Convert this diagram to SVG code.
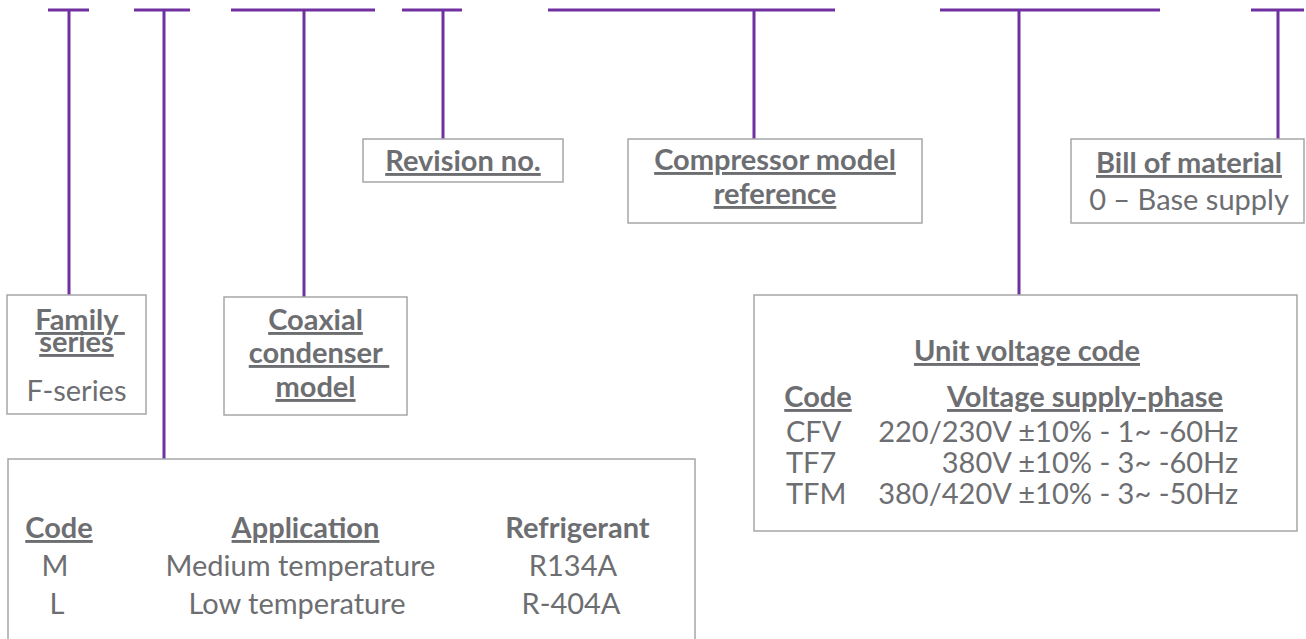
<svg xmlns="http://www.w3.org/2000/svg" width="1306" height="639" viewBox="0 0 1306 639">
  <style>
    .wire { stroke: #7030a0; stroke-width: 3; fill: none; }
    .box { fill: #ffffff; stroke: #a6a6a6; stroke-width: 1.5; }
    text { font-family: Lato, "Open Sans", "Liberation Sans", sans-serif; font-size: 29px; fill: #6d6e71; white-space: pre; }
    .b { font-weight: bold; }
    .u { text-decoration: underline; }
    .c { text-anchor: middle; }
    .e { text-anchor: end; }
  </style>
  <rect width="1306" height="639" fill="#ffffff"/>
  <g id="connectors">
    <path class="wire" d="M48 10H89M69 10V295"/>
    <path class="wire" d="M134 10H190M164 10V459"/>
    <path class="wire" d="M231 10H375M304 10V297"/>
    <path class="wire" d="M402 10H462M443 10V139"/>
    <path class="wire" d="M548 10H835M754 10V139"/>
    <path class="wire" d="M940 10H1160M1019 10V295"/>
    <path class="wire" d="M1251 10H1304M1278 10V139"/>
  </g>
  <g id="family">
    <rect class="box" x="7" y="295" width="139" height="119"/>
    <text class="b u c" x="80" y="330" xml:space="preserve">Family </text>
    <text class="b u c" x="76.5" y="352">series</text>
    <text class="c" x="76.5" y="401">F-series</text>
  </g>
  <g id="coaxial">
    <rect class="box" x="224" y="297" width="183" height="118"/>
    <text class="b u c" x="315.5" y="330">Coaxial</text>
    <text class="b u c" x="319" y="363" xml:space="preserve">condenser </text>
    <text class="b u c" x="315.5" y="397">model</text>
  </g>
  <g id="revision">
    <rect class="box" x="363" y="139" width="200" height="43"/>
    <text class="b u c" x="463" y="171">Revision no.</text>
  </g>
  <g id="compressor">
    <rect class="box" x="628" y="139" width="294" height="84"/>
    <text class="b u c" x="775" y="170">Compressor model</text>
    <text class="b u c" x="775" y="204">reference</text>
  </g>
  <g id="bill">
    <rect class="box" x="1071" y="139" width="233" height="84"/>
    <text class="b u c" x="1189" y="173">Bill of material</text>
    <text class="c" x="1189" y="210">0 – Base supply</text>
  </g>
  <g id="voltage">
    <rect class="box" x="754" y="295" width="543" height="236"/>
    <text class="b u c" x="1027" y="361">Unit voltage code</text>
    <text class="b u c" x="818" y="407">Code</text>
    <text class="b u c" x="1085" y="407">Voltage supply-phase</text>
    <text x="786" y="442">CFV</text>
    <text class="e" x="1238" y="442">220/230V ±10% - 1~ -60Hz</text>
    <text x="786" y="473">TF7</text>
    <text class="e" x="1238" y="473">380V ±10% - 3~ -60Hz</text>
    <text x="786" y="504">TFM</text>
    <text class="e" x="1238" y="504">380/420V ±10% - 3~ -50Hz</text>
  </g>
  <g id="application">
    <rect class="box" x="8" y="459" width="687" height="200"/>
    <text class="b u c" x="59" y="538">Code</text>
    <text class="b u c" x="305.5" y="538">Application</text>
    <text class="b c" x="577.5" y="538">Refrigerant</text>
    <text class="c" x="55" y="576">M</text>
    <text class="c" x="300.5" y="576">Medium temperature</text>
    <text class="c" x="573" y="576">R134A</text>
    <text class="c" x="57" y="614">L</text>
    <text class="c" x="297" y="614">Low temperature</text>
    <text class="c" x="571" y="614">R-404A</text>
  </g>
</svg>
